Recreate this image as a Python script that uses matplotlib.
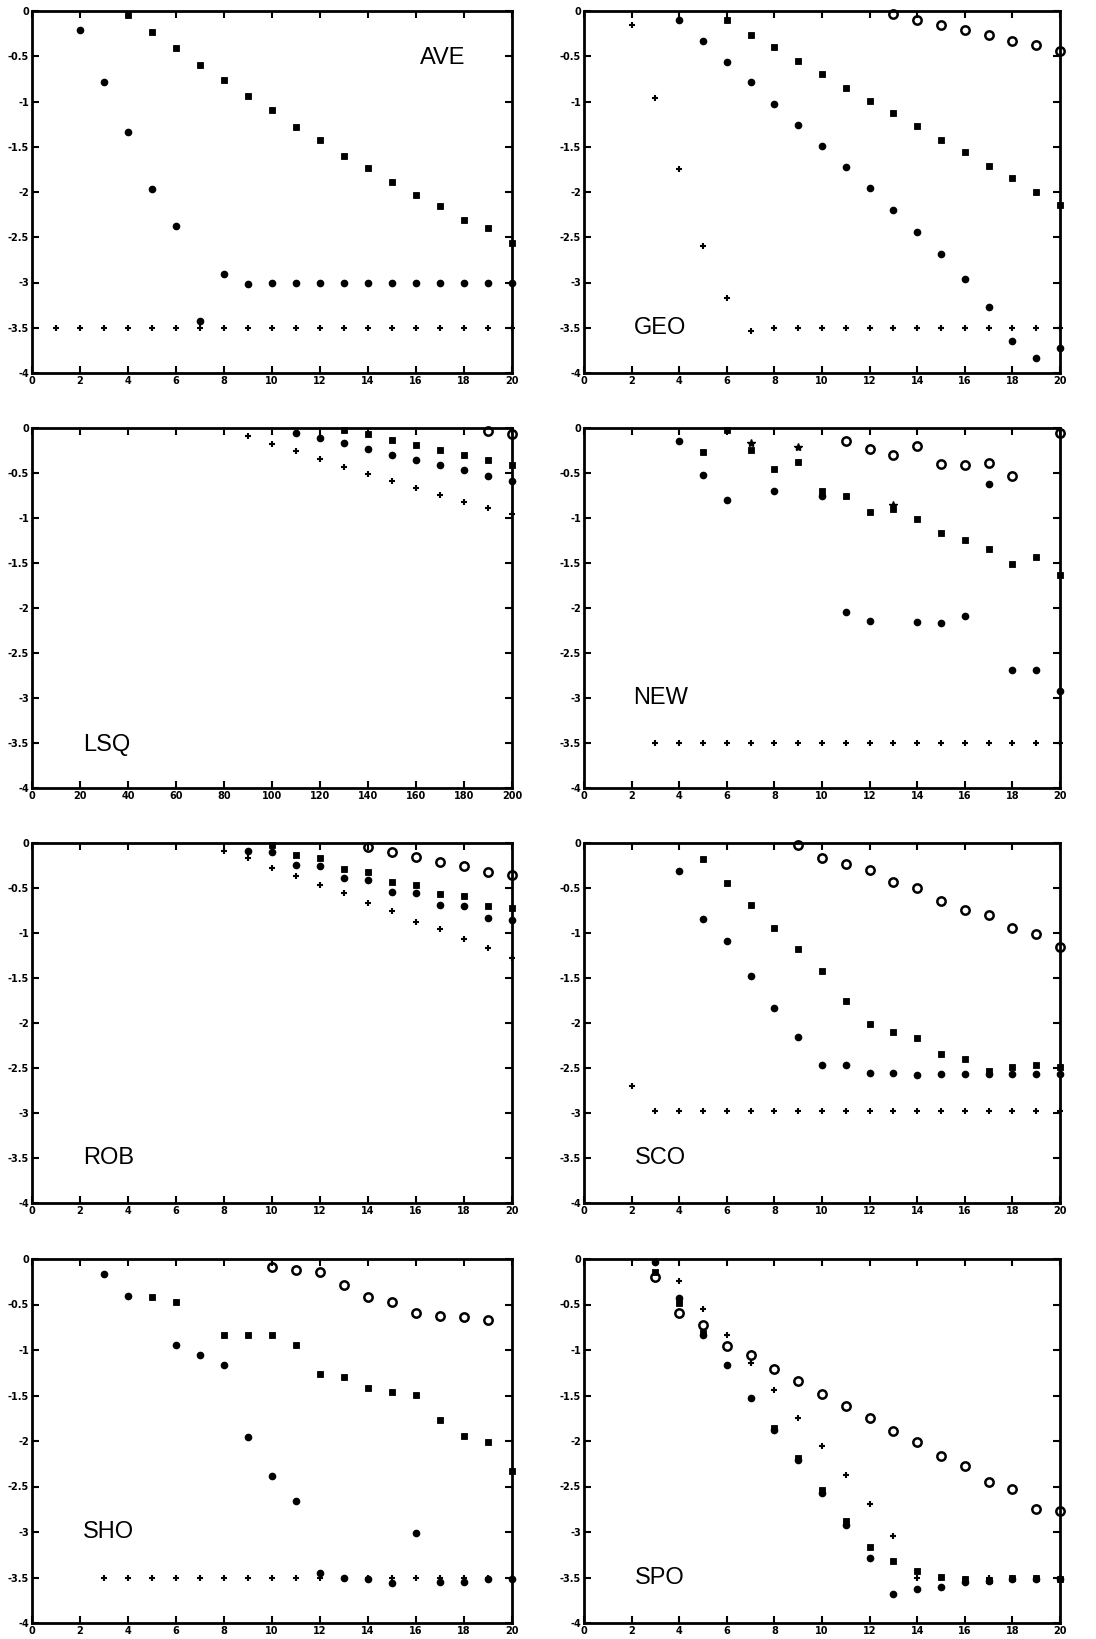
import matplotlib
matplotlib.use("Agg")
import matplotlib.pyplot as plt

# ---- AVE ----
ave_plus_x = [1, 2, 3, 4, 5, 6, 7, 8, 9, 10, 11, 12, 13, 14, 15, 16, 17, 18, 19, 20]
ave_plus_y = [-3.5, -3.5, -3.5, -3.5, -3.5, -3.5, -3.5, -3.5, -3.5, -3.5, -3.5, -3.5, -3.5, -3.5, -3.5, -3.5, -3.5, -3.5, -3.5, -3.5]
ave_dot_x = [2, 3, 4, 5, 6, 7, 8, 9, 10, 11, 12, 13, 14, 15, 16, 17, 18, 19, 20]
ave_dot_y = [-0.21, -0.79, -1.34, -1.97, -2.38, -3.43, -2.91, -3.02, -3.0, -3.0, -3.0, -3.0, -3.0, -3.0, -3.0, -3.0, -3.0, -3.0, -3.0]
ave_sq_x = [4, 5, 6, 7, 8, 9, 10, 11, 12, 13, 14, 15, 16, 17, 18, 19, 20]
ave_sq_y = [-0.04, -0.23, -0.41, -0.6, -0.76, -0.94, -1.09, -1.28, -1.42, -1.6, -1.73, -1.89, -2.03, -2.15, -2.31, -2.4, -2.56]

# ---- GEO ----
geo_plus_x = [2, 3, 4, 5, 6, 7, 8, 9, 10, 11, 12, 13, 14, 15, 16, 17, 18, 19, 20]
geo_plus_y = [-0.15, -0.96, -1.75, -2.6, -3.17, -3.54, -3.5, -3.5, -3.5, -3.5, -3.5, -3.5, -3.5, -3.5, -3.5, -3.5, -3.5, -3.5, -3.5]
geo_dot_x = [4, 5, 6, 7, 8, 9, 10, 11, 12, 13, 14, 15, 16, 17, 18, 19, 20]
geo_dot_y = [-0.1, -0.33, -0.56, -0.79, -1.03, -1.26, -1.49, -1.72, -1.96, -2.2, -2.44, -2.69, -2.96, -3.27, -3.65, -3.83, -3.72]
geo_sq_x = [6, 7, 8, 9, 10, 11, 12, 13, 14, 15, 16, 17, 18, 19, 20]
geo_sq_y = [-0.1, -0.26, -0.4, -0.55, -0.7, -0.85, -0.99, -1.13, -1.27, -1.42, -1.56, -1.71, -1.85, -2.0, -2.14]
geo_o_x = [13, 14, 15, 16, 17, 18, 19, 20]
geo_o_y = [-0.03, -0.1, -0.15, -0.21, -0.27, -0.33, -0.38, -0.44]

# ---- LSQ ----
lsq_plus_x = [90, 100, 110, 120, 130, 140, 150, 160, 170, 180, 190, 200]
lsq_plus_y = [-0.09, -0.18, -0.26, -0.34, -0.43, -0.51, -0.59, -0.67, -0.74, -0.82, -0.89, -0.96]
lsq_dot_x = [110, 120, 130, 140, 150, 160, 170, 180, 190, 200]
lsq_dot_y = [-0.06, -0.11, -0.17, -0.23, -0.3, -0.36, -0.41, -0.47, -0.53, -0.59]
lsq_sq_x = [130, 140, 150, 160, 170, 180, 190, 200]
lsq_sq_y = [-0.02, -0.07, -0.13, -0.19, -0.24, -0.3, -0.36, -0.41]
lsq_o_x = [190, 200]
lsq_o_y = [-0.03, -0.07]

# ---- NEW ----
new_plus_x = [3, 4, 5, 6, 7, 8, 9, 10, 11, 12, 13, 14, 15, 16, 17, 18, 19, 20]
new_plus_y = [-3.5, -3.5, -3.5, -3.5, -3.5, -3.5, -3.5, -3.5, -3.5, -3.5, -3.5, -3.5, -3.5, -3.5, -3.5, -3.5, -3.5, -3.5]
new_dot_x = [4, 5, 6, 8, 10, 11, 12, 14, 15, 16, 17, 18, 19, 20]
new_dot_y = [-0.14, -0.52, -0.8, -0.7, -0.75, -2.04, -2.14, -2.15, -2.17, -2.09, -0.62, -2.69, -2.69, -2.92]
new_sq_x = [5, 6, 7, 8, 9, 10, 11, 12, 13, 14, 15, 16, 17, 18, 19, 20]
new_sq_y = [-0.27, -0.02, -0.24, -0.46, -0.38, -0.7, -0.76, -0.93, -0.9, -1.01, -1.17, -1.24, -1.34, -1.51, -1.43, -1.63]
new_star_x = [7, 9, 13]
new_star_y = [-0.17, -0.21, -0.85]
new_o_x = [11, 12, 13, 14, 15, 16, 17, 18, 20]
new_o_y = [-0.14, -0.23, -0.3, -0.2, -0.4, -0.41, -0.39, -0.53, -0.05]

# ---- ROB ----
rob_plus_x = [8, 9, 10, 11, 12, 13, 14, 15, 16, 17, 18, 19, 20]
rob_plus_y = [-0.09, -0.17, -0.28, -0.37, -0.47, -0.56, -0.67, -0.76, -0.88, -0.96, -1.07, -1.17, -1.28]
rob_dot_x = [9, 10, 11, 12, 13, 14, 15, 16, 17, 18, 19, 20]
rob_dot_y = [-0.09, -0.1, -0.24, -0.26, -0.39, -0.41, -0.54, -0.56, -0.69, -0.7, -0.83, -0.85]
rob_sq_x = [10, 11, 12, 13, 14, 15, 16, 17, 18, 19, 20]
rob_sq_y = [-0.02, -0.13, -0.17, -0.29, -0.32, -0.43, -0.47, -0.57, -0.59, -0.7, -0.72]
rob_o_x = [14, 15, 16, 17, 18, 19, 20]
rob_o_y = [-0.04, -0.1, -0.15, -0.21, -0.26, -0.32, -0.36]

# ---- SCO ----
sco_plus_x = [2, 3, 4, 5, 6, 7, 8, 9, 10, 11, 12, 13, 14, 15, 16, 17, 18, 19, 20]
sco_plus_y = [-2.7, -2.98, -2.98, -2.98, -2.98, -2.98, -2.98, -2.98, -2.98, -2.98, -2.98, -2.98, -2.98, -2.98, -2.98, -2.98, -2.98, -2.98, -2.98]
sco_dot_x = [4, 5, 6, 7, 8, 9, 10, 11, 12, 13, 14, 15, 16, 17, 18, 19, 20]
sco_dot_y = [-0.31, -0.84, -1.09, -1.48, -1.83, -2.15, -2.47, -2.47, -2.56, -2.56, -2.58, -2.57, -2.57, -2.57, -2.57, -2.57, -2.57]
sco_sq_x = [5, 6, 7, 8, 9, 10, 11, 12, 13, 14, 15, 16, 17, 18, 19, 20]
sco_sq_y = [-0.18, -0.44, -0.69, -0.94, -1.18, -1.42, -1.75, -2.01, -2.1, -2.17, -2.34, -2.4, -2.53, -2.49, -2.47, -2.49]
sco_o_x = [9, 10, 11, 12, 13, 14, 15, 16, 17, 18, 19, 20]
sco_o_y = [-0.02, -0.17, -0.23, -0.3, -0.43, -0.5, -0.64, -0.74, -0.8, -0.94, -1.01, -1.15]

# ---- SHO ----
sho_plus_x = [3, 4, 5, 6, 7, 8, 9, 10, 11, 12, 13, 14, 15, 16, 17, 18, 19, 20]
sho_plus_y = [-3.5, -3.5, -3.5, -3.5, -3.5, -3.5, -3.5, -3.5, -3.5, -3.5, -3.5, -3.5, -3.5, -3.5, -3.5, -3.5, -3.5, -3.5]
sho_dot_x = [3, 4, 6, 7, 8, 9, 10, 11, 12, 13, 14, 15, 16, 17, 18, 19, 20]
sho_dot_y = [-0.16, -0.41, -0.94, -1.05, -1.16, -1.96, -2.39, -2.66, -3.45, -3.5, -3.52, -3.56, -3.01, -3.55, -3.55, -3.52, -3.52]
sho_sq_x = [5, 6, 8, 9, 10, 11, 12, 13, 14, 15, 16, 17, 18, 19, 20]
sho_sq_y = [-0.42, -0.47, -0.84, -0.84, -0.84, -0.94, -1.26, -1.3, -1.42, -1.46, -1.49, -1.77, -1.94, -2.01, -2.33]
sho_o_x = [10, 11, 12, 13, 14, 15, 16, 17, 18, 19]
sho_o_y = [-0.09, -0.12, -0.14, -0.29, -0.42, -0.47, -0.59, -0.63, -0.64, -0.67]

# ---- SPO ----
spo_plus_x = [3, 4, 5, 6, 7, 8, 9, 10, 11, 12, 13, 14, 15, 16, 17, 18, 19, 20]
spo_plus_y = [-0.04, -0.24, -0.55, -0.84, -1.14, -1.44, -1.75, -2.05, -2.37, -2.69, -3.04, -3.51, -3.5, -3.52, -3.5, -3.5, -3.5, -3.5]
spo_dot_x = [3, 4, 5, 6, 7, 8, 9, 10, 11, 12, 13, 14, 15, 16, 17, 18, 19, 20]
spo_dot_y = [-0.03, -0.43, -0.84, -1.17, -1.53, -1.88, -2.21, -2.57, -2.92, -3.29, -3.68, -3.63, -3.6, -3.55, -3.54, -3.52, -3.52, -3.52]
spo_sq_x = [3, 4, 5, 8, 9, 10, 11, 12, 13, 14, 15, 16, 17, 18, 19, 20]
spo_sq_y = [-0.14, -0.48, -0.81, -1.86, -2.19, -2.54, -2.88, -3.16, -3.32, -3.43, -3.49, -3.52, -3.53, -3.51, -3.51, -3.52]
spo_o_x = [3, 4, 5, 6, 7, 8, 9, 10, 11, 12, 13, 14, 15, 16, 17, 18, 19, 20]
spo_o_y = [-0.2, -0.59, -0.73, -0.96, -1.06, -1.21, -1.34, -1.48, -1.62, -1.75, -1.89, -2.01, -2.17, -2.27, -2.45, -2.53, -2.75, -2.77]

yticks = [0, -0.5, -1, -1.5, -2, -2.5, -3, -3.5, -4]
ytick_labels = ["0", "-0.5", "-1", "-1.5", "-2", "-2.5", "-3", "-3.5", "-4"]
xticks_20 = [0, 2, 4, 6, 8, 10, 12, 14, 16, 18, 20]
xticks_200 = [0, 20, 40, 60, 80, 100, 120, 140, 160, 180, 200]

panels = [
    ("AVE", 20, (17.1, -0.52),
     [(ave_plus_x, ave_plus_y, "+"), (ave_dot_x, ave_dot_y, "."), (ave_sq_x, ave_sq_y, "s")]),
    ("GEO", 20, (3.2, -3.5),
     [(geo_plus_x, geo_plus_y, "+"), (geo_dot_x, geo_dot_y, "."), (geo_sq_x, geo_sq_y, "s"),
      (geo_o_x, geo_o_y, "o")]),
    ("LSQ", 200, (31, -3.52),
     [(lsq_plus_x, lsq_plus_y, "+"), (lsq_dot_x, lsq_dot_y, "."), (lsq_sq_x, lsq_sq_y, "s"),
      (lsq_o_x, lsq_o_y, "o")]),
    ("NEW", 20, (3.2, -3.0),
     [(new_plus_x, new_plus_y, "+"), (new_dot_x, new_dot_y, "."), (new_sq_x, new_sq_y, "s"),
      (new_star_x, new_star_y, "*"), (new_o_x, new_o_y, "o")]),
    ("ROB", 20, (3.2, -3.5),
     [(rob_plus_x, rob_plus_y, "+"), (rob_dot_x, rob_dot_y, "."), (rob_sq_x, rob_sq_y, "s"),
      (rob_o_x, rob_o_y, "o")]),
    ("SCO", 20, (3.2, -3.5),
     [(sco_plus_x, sco_plus_y, "+"), (sco_dot_x, sco_dot_y, "."), (sco_sq_x, sco_sq_y, "s"),
      (sco_o_x, sco_o_y, "o")]),
    ("SHO", 20, (3.2, -3.0),
     [(sho_plus_x, sho_plus_y, "+"), (sho_dot_x, sho_dot_y, "."), (sho_sq_x, sho_sq_y, "s"),
      (sho_o_x, sho_o_y, "o")]),
    ("SPO", 20, (3.2, -3.5),
     [(spo_plus_x, spo_plus_y, "+"), (spo_dot_x, spo_dot_y, "."), (spo_sq_x, spo_sq_y, "s"),
      (spo_o_x, spo_o_y, "o")]),
]

W, H = 1096, 1639
fig = plt.figure(figsize=(W / 100, H / 100), dpi=100)

col_left = [32, 584]
col_width = [480, 476]
row_top = [11, 428, 843, 1259]
row_height = [362, 360, 360, 364]

marker_style = {
    "+": dict(markersize=5, markeredgewidth=1.5),
    ".": dict(markersize=9),
    "s": dict(markersize=4, markeredgewidth=0.6),
    "*": dict(markersize=6),
    "o": dict(markersize=6, markerfacecolor="none", markeredgewidth=1.8),
}

for i, (name, xmax, txt_pos, series) in enumerate(panels):
    r, c = divmod(i, 2)
    l = col_left[c] / W
    b = 1 - (row_top[r] + row_height[r]) / H
    ax = fig.add_axes([l, b, col_width[c] / W, row_height[r] / H])
    for xs, ys, m in series:
        ax.plot(xs, ys, linestyle="none", marker=m, color="black", clip_on=False,
                **marker_style[m])
    ax.set_xlim(0, xmax)
    ax.set_ylim(-4, 0)
    ax.set_xticks(xticks_200 if xmax == 200 else xticks_20)
    ax.set_yticks(yticks)
    ax.set_yticklabels(ytick_labels)
    ax.tick_params(direction="in", length=5, width=1.5, top=True, right=True,
                   labelsize=7, pad=2)
    for lab in ax.get_xticklabels() + ax.get_yticklabels():
        lab.set_fontweight("bold")
    for sp in ax.spines.values():
        sp.set_linewidth(2)
    ax.text(txt_pos[0], txt_pos[1], name, ha="center", va="center",
            fontsize=17, family="Liberation Sans")

fig.savefig("out.png", dpi=100)
